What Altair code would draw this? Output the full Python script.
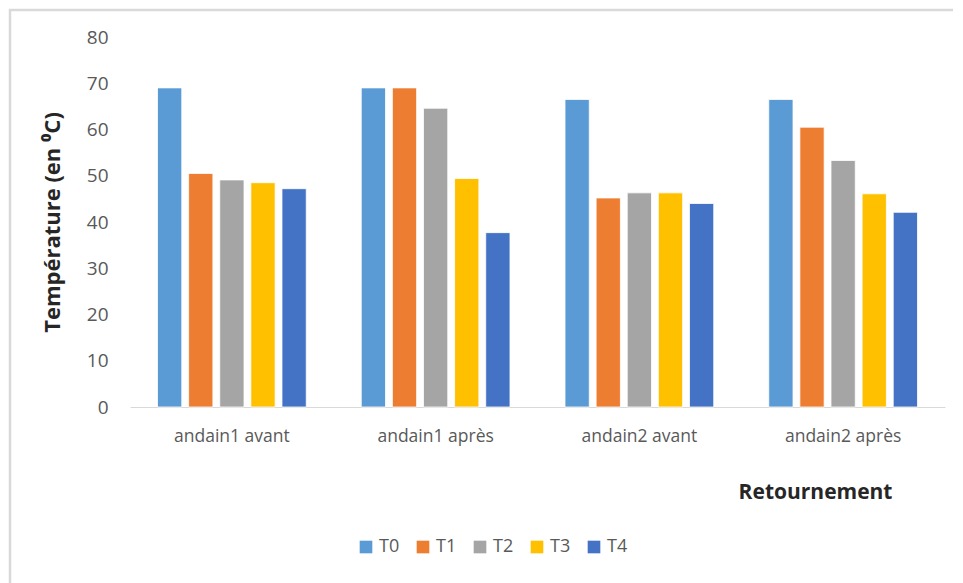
import altair as alt
import pandas as pd

categories = ["andain1 avant", "andain1 après", "andain2 avant", "andain2 après"]
series = ["T0", "T1", "T2", "T3", "T4"]
T0 = [69.0, 69.0, 66.5, 66.5]
T1 = [50.5, 69.0, 45.2, 60.5]
T2 = [49.1, 64.6, 46.3, 53.3]
T3 = [48.5, 49.4, 46.3, 46.1]
T4 = [47.2, 37.7, 44.0, 42.1]
colors = ["#5B9BD5", "#ED7D31", "#A5A5A5", "#FFC000", "#4472C4"]

rows = []
for s, vals in zip(series, [T0, T1, T2, T3, T4]):
    for c, v in zip(categories, vals):
        rows.append({"cat": c, "serie": s, "val": v})
df = pd.DataFrame(rows)

FONT = "Open Sans"
TFONT = "Open Sans"

bars = alt.Chart(df).mark_bar(stroke="white", strokeWidth=0.8).encode(
    x=alt.X("cat:N", sort=categories,
            scale=alt.Scale(paddingInner=0.27, paddingOuter=0.135),
            axis=alt.Axis(title="Retournement", labelAngle=0, ticks=False,
                          domainColor="#D9D9D9", labelFontSize=17.5, labelColor="#595959",
                          labelFont=FONT, labelPadding=20,
                          titleFont=TFONT, titleFontSize=21, titleFontWeight="bold",
                          titleColor="#262626", titleX=762, titleY=85,
                          titleAlign="right", titleBaseline="middle")),
    xOffset=alt.XOffset("serie:N", sort=series,
                        scale=alt.Scale(paddingInner=0.22, paddingOuter=0)),
    y=alt.Y("val:Q", scale=alt.Scale(domain=[0, 80]),
            axis=alt.Axis(title="Température (en ⁰C)", values=list(range(0, 81, 10)),
                          grid=False, domain=False, ticks=False,
                          labelFontSize=19, labelColor="#595959", labelFont=FONT,
                          labelPadding=22, titleFont=TFONT, titleFontSize=22,
                          titleFontWeight="bold", titleColor="#262626", titleX=-66)),
    color=alt.Color("serie:N", sort=series,
                    scale=alt.Scale(domain=series, range=colors),
                    legend=alt.Legend(title=None, orient="none", direction="horizontal",
                                      legendX=227, legendY=131 + 370, symbolType="square",
                                      symbolSize=160, symbolStrokeWidth=0,
                                      labelFont=FONT, labelFontSize=18,
                                      labelColor="#595959", columnPadding=14)),
)

frame_data = alt.Data(values=[{}])
frame_v = alt.Chart(frame_data).mark_rule(color="#D9D9D9", strokeWidth=2.5).encode(
    x=alt.value(-120), y=alt.value(-28), y2=alt.value(548))
frame_h = alt.Chart(frame_data).mark_rule(color="#D9D9D9", strokeWidth=2.5).encode(
    x=alt.value(-121), x2=alt.value(840), y=alt.value(-27))

chart = alt.layer(frame_v, frame_h, bars).properties(
    width=815, height=370,
    padding={"left": 122, "top": 29, "right": 8, "bottom": 176},
    autosize=alt.AutoSizeParams(type="none"),
).configure_view(stroke=None)

chart.save("out.html", embed_options={"renderer": "svg", "actions": False})
